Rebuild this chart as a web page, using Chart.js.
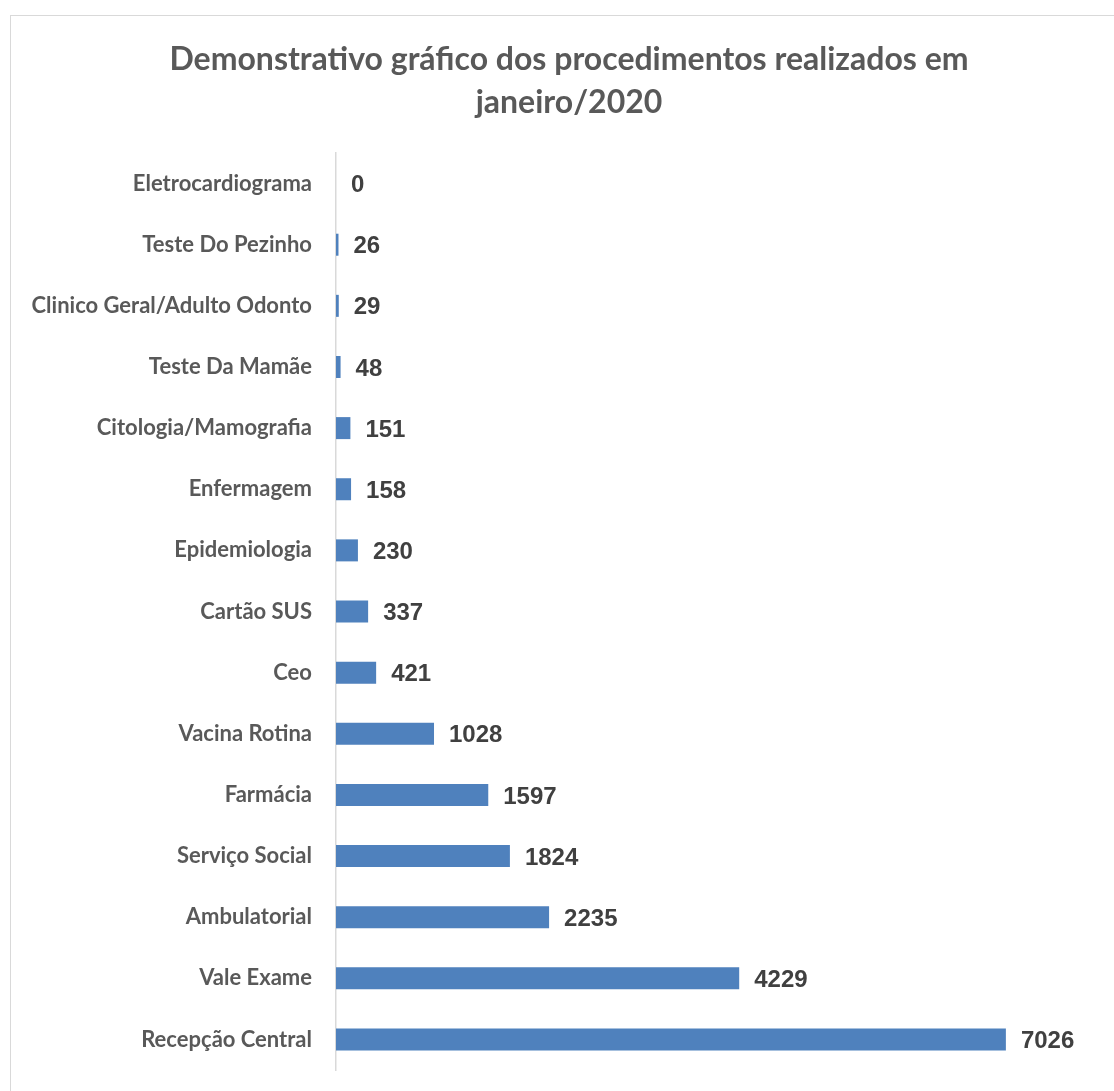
<!DOCTYPE html>
<html>
<head>
<meta charset="utf-8">
<script src="https://cdn.jsdelivr.net/npm/chart.js@4"></script>
<style>
  html, body { margin:0; padding:0; overflow:hidden; background:#fff; }
  #frame { position:absolute; left:10px; top:15px; width:1300px; height:1300px; border:1px solid #d9d9d9; }
  #wrap { position:absolute; left:0; top:0; width:1114px; height:1091px; }
</style>
</head>
<body>
<div id="frame"></div>
<div id="wrap"><canvas id="chart"></canvas></div>
<script>
// DATA
const categories = ['Eletrocardiograma','Teste Do Pezinho','Clinico Geral/Adulto Odonto','Teste Da Mamãe',
  'Citologia/Mamografia','Enfermagem','Epidemiologia','Cartão SUS','Ceo','Vacina Rotina',
  'Farmácia','Serviço Social','Ambulatorial','Vale Exame','Recepção Central'];
const values = [0,26,29,48,151,158,230,337,421,1028,1597,1824,2235,4229,7026];
const titleLines = ['Demonstrativo gráfico dos procedimentos realizados em','janeiro/2020'];

// value labels next to each bar
const valueLabels = {
  id:'valueLabels',
  afterDatasetsDraw(chart){
    const ctx = chart.ctx;
    const meta = chart.getDatasetMeta(0);
    ctx.save();
    ctx.font = 'bold 24px "Liberation Sans", Arial, sans-serif';
    ctx.fillStyle = '#404040';
    ctx.textAlign = 'left';
    ctx.textBaseline = 'middle';
    meta.data.forEach((bar,i)=>{
      ctx.fillText(String(values[i]), bar.x + 15, bar.y + 2);
    });
    ctx.restore();
  }
};

const ctx = document.getElementById('chart').getContext('2d');
new Chart(ctx,{
  type:'bar',
  data:{labels:categories,datasets:[{data:values,backgroundColor:'#4f81bd',borderWidth:0,
    barPercentage:0.36,categoryPercentage:1}]},
  options:{
    indexAxis:'y',
    responsive:true,
    maintainAspectRatio:false,
    animation:false,
    layout:{padding:{left:24,right:0,top:0,bottom:21}},
    plugins:{
      legend:{display:false},
      tooltip:{enabled:false},
      title:{display:true,text:titleLines,color:'#595959',
        font:{family:'Lato, "Open Sans", sans-serif',size:32,weight:'bold',lineHeight:1.344},
        padding:{top:38,bottom:29}}
    },
    scales:{
      x:{display:false,min:0,max:8160},
      y:{
        grid:{display:false,drawTicks:false},
        border:{display:true,color:'#d9d9d9',width:1.5},
        ticks:{color:'#595959',padding:24,font:{family:'Lato, "Open Sans", sans-serif',size:22,weight:'bold'}},
        afterFit(scale){ scale.width = 312; scale.paddingTop = 0; scale.paddingBottom = 0; }
      }
    }
  },
  plugins:[valueLabels]
});
</script>
</body>
</html>
